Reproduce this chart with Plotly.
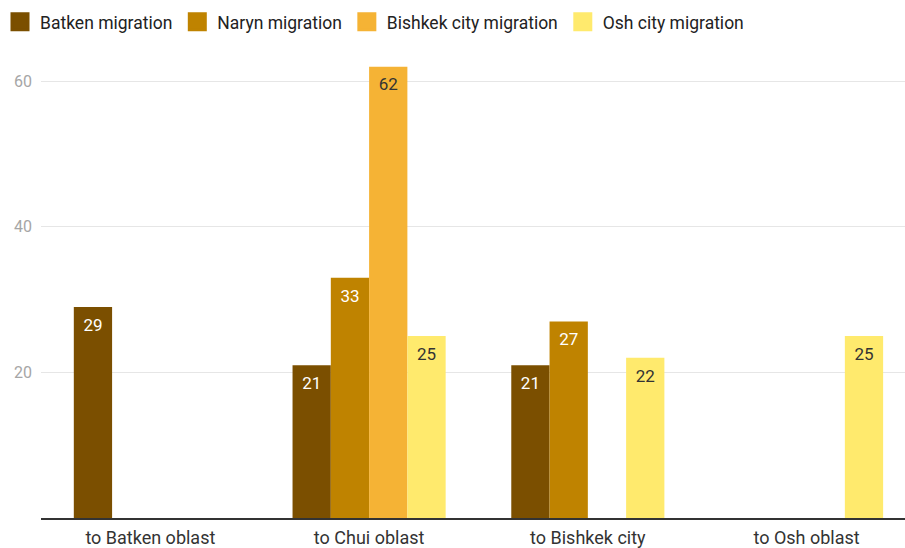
import plotly.graph_objects as go

categories = ["to Batken oblast", "to Chui oblast", "to Bishkek city", "to Osh oblast"]
series_names = ["Batken migration", "Naryn migration", "Bishkek city migration", "Osh city migration"]
batken = [29, 21, 21, None]
naryn = [None, 33, 27, None]
bishkek = [None, 62, None, None]
osh = [None, 25, 22, 25]
colors = ["#7b4f00", "#bf8300", "#f5b335", "#ffea6d"]
text_colors = ["#ffffff", "#ffffff", "#333333", "#333333"]
y_ticks = [20, 40, 60]

fig = go.Figure()
all_series = [batken, naryn, bishkek, osh]
for i, (name, vals, c) in enumerate(zip(series_names, all_series, colors)):
    fig.add_trace(go.Bar(
        x=categories, y=vals, name=name, marker_color=c, marker_line_width=0,
        offsetgroup=str(i), showlegend=False,
    ))
# value labels, aligned with bars through offsetgroup
for i, (vals, tc) in enumerate(zip(all_series, text_colors)):
    fig.add_trace(go.Scatter(
        x=categories, y=vals, mode="markers+text", offsetgroup=str(i),
        text=[("" if v is None else str(v)) for v in vals],
        textposition="bottom center",
        textfont=dict(color=tc, size=17, family="Roboto"),
        marker=dict(size=16, opacity=0), showlegend=False, hoverinfo="skip",
        cliponaxis=False,
    ))
# legend entries with large square swatches
for i, (name, c) in enumerate(zip(series_names, colors)):
    fig.add_trace(go.Scatter(
        x=[None], y=[None], name=name, mode="markers", offsetgroup=str(i),
        marker=dict(symbol="square", size=16, color=c, line=dict(width=3, color=c)),
    ))

fig.update_layout(
    width=905, height=548,
    margin=dict(l=41, r=0, t=58, b=30),
    barmode="group", bargap=0.3, bargroupgap=0,
    scattermode="group", scattergap=0.3,
    plot_bgcolor="white", paper_bgcolor="white",
    font=dict(family="Roboto", size=16, color="#333333"),
    legend=dict(orientation="h", x=0, xref="container", y=0.993, yref="container",
                xanchor="left", yanchor="top", font=dict(size=17.5, color="#222222"),
                itemwidth=30, traceorder="normal", itemsizing="trace"),
)
fig.update_xaxes(range=[-0.5, 3.45], showline=True, linecolor="#333333", linewidth=1.5,
                 ticks="", tickfont=dict(size=18, color="#333333"), showgrid=False,
                 ticklabelstandoff=3, automargin=False)
fig.update_yaxes(range=[0, 63.2], tickvals=y_ticks, showgrid=True, gridcolor="#e6e6e6",
                 gridwidth=1, zeroline=False, tickfont=dict(size=16, color="#a6a6a6"),
                 ticks="", ticklabelstandoff=8, automargin=False)

fig.write_html("out.html")
